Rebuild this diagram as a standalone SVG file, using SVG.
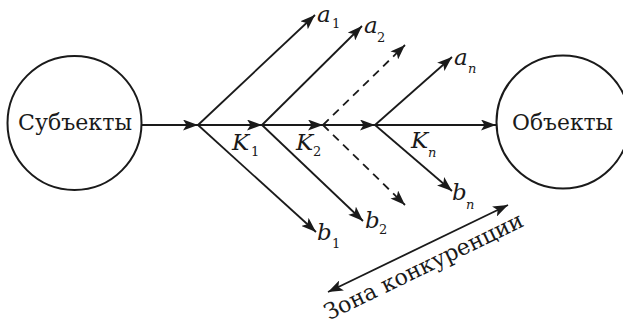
<svg xmlns="http://www.w3.org/2000/svg" width="623" height="326" viewBox="0 0 623 326">
<defs>
<marker id="ah" markerUnits="userSpaceOnUse" markerWidth="16" markerHeight="11" refX="15" refY="5.5" orient="auto-start-reverse" viewBox="0 0 16 11">
<path d="M0,0 L15,5.5 L0,11 L3.5,5.5 z" fill="#1a1a1a"/>
</marker>
</defs>
<style>
.c{fill:#fff;stroke:#1a1a1a;stroke-width:2}
.l{stroke:#1a1a1a;stroke-width:1.8;fill:none;marker-end:url(#ah)}
.d{stroke-dasharray:8 6}
.t{font-family:"DejaVu Serif","Liberation Serif",serif;font-size:23px;fill:#1a1a1a}
.z{font-family:"DejaVu Serif","Liberation Serif",serif;font-size:22.5px;fill:#1a1a1a}
.i{font-family:"DejaVu Serif","Liberation Serif",serif;font-style:italic;font-size:23px;fill:#1a1a1a}
.s{font-family:"DejaVu Serif","Liberation Serif",serif;font-size:13px;fill:#1a1a1a}
.si{font-family:"DejaVu Serif","Liberation Serif",serif;font-style:italic;font-size:13px;fill:#1a1a1a}
</style>
<rect width="623" height="326" fill="#fff"/>
<g id="subjects">
<circle class="c" cx="74.5" cy="123" r="67"/>
<text class="t" x="75" y="130" text-anchor="middle" textLength="114" lengthAdjust="spacingAndGlyphs">Субъекты</text>
</g>
<g id="objects">
<circle class="c" cx="563" cy="122" r="66.5"/>
<text class="t" x="562.5" y="130" text-anchor="middle" textLength="101" lengthAdjust="spacingAndGlyphs">Объекты</text>
</g>
<g id="connectors">
<line class="l" x1="141" y1="125" x2="198" y2="125"/>
<line class="l" x1="198" y1="125" x2="262" y2="125"/>
<line class="l" x1="262" y1="125" x2="323" y2="125"/>
<line class="l" x1="323" y1="125" x2="375" y2="125"/>
<line class="l" x1="375" y1="125" x2="496" y2="125"/>
<line class="l" x1="198" y1="125" x2="315" y2="15"/>
<line class="l" x1="198" y1="125" x2="316" y2="232"/>
<line class="l" x1="262" y1="125" x2="362" y2="26"/>
<line class="l" x1="262" y1="125" x2="363" y2="221"/>
<line class="l d" x1="323" y1="125" x2="405" y2="45"/>
<line class="l d" x1="323" y1="125" x2="405" y2="205"/>
<line class="l" x1="375" y1="125" x2="452" y2="57"/>
<line class="l" x1="375" y1="125" x2="452" y2="191"/>
<line class="l" x1="328" y1="292" x2="508" y2="205" style="marker-start:url(#ah)"/>
</g>
<g id="labels">
<text class="i" x="317" y="22">a</text><text class="s" x="332" y="28">1</text>
<text class="i" x="364" y="33">a</text><text class="s" x="377" y="42">2</text>
<text class="i" x="454" y="65">a</text><text class="si" x="468" y="73">n</text>
<text class="i" x="232" y="150">K</text><text class="s" x="251" y="156">1</text>
<text class="i" x="296" y="150">K</text><text class="s" x="313" y="156">2</text>
<text class="i" x="411" y="148">K</text><text class="si" x="428" y="157">n</text>
<text class="i" x="317" y="240">b</text><text class="s" x="332" y="248">1</text>
<text class="i" x="365" y="228">b</text><text class="s" x="379" y="234">2</text>
<text class="i" x="452" y="200">b</text><text class="si" x="466" y="209">n</text>
<text class="z" transform="translate(427,273) rotate(-25.8)" text-anchor="middle" textLength="218" lengthAdjust="spacingAndGlyphs">Зона конкуренции</text>
</g>
</svg>
